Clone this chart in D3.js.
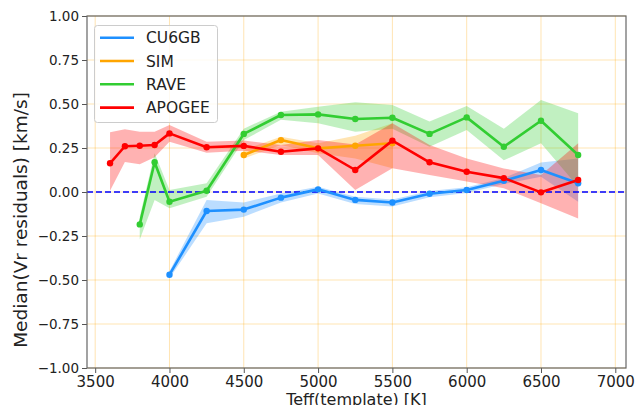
<!DOCTYPE html>
<html>
<head>
<meta charset="utf-8">
<script src="https://d3js.org/d3.v7.min.js"></script>
<style>
  body { margin: 0; background: #fff; }
  text { font-family: "DejaVu Sans", sans-serif; fill: #222; }
</style>
</head>
<body>
<div id="dv"></div>
<script>
// series data (Teff bins, median, lower and upper band)
var cu6gbTeff = [4000, 4250, 4500, 4750, 5000, 5250, 5500, 5750, 6000, 6250, 6500, 6750];
var cu6gbMed = [-0.47, -0.108, -0.10, -0.032, 0.015, -0.045, -0.06, -0.01, 0.011, 0.064, 0.125, 0.05];
var cu6gbLo = [-0.49, -0.178, -0.14, -0.06, -0.008, -0.068, -0.083, -0.03, -0.005, 0.045, 0.087, -0.055];
var cu6gbHi = [-0.45, -0.045, -0.06, -0.008, 0.03, -0.027, -0.042, 0.005, 0.027, 0.08, 0.167, 0.19];

var simTeff = [4500, 4750, 5000, 5250, 5500];
var simMed = [0.21, 0.295, 0.248, 0.263, 0.277];
var simLo = [0.19, 0.267, 0.22, 0.19, 0.135];
var simHi = [0.239, 0.314, 0.277, 0.32, 0.39];

var raveTeff = [3800, 3900, 4000, 4250, 4500, 4750, 5000, 5250, 5500, 5750, 6000, 6250, 6500, 6750];
var raveMed = [-0.184, 0.169, -0.055, 0.007, 0.33, 0.4375, 0.441, 0.415, 0.422, 0.33, 0.424, 0.257, 0.405, 0.21];
var raveLo = [-0.27, -0.045, -0.093, -0.027, 0.295, 0.41, 0.39, 0.343, 0.36, 0.257, 0.352, 0.18, 0.277, 0.03];
var raveHi = [-0.14, 0.22, 0.011, 0.05, 0.36, 0.456, 0.485, 0.51, 0.494, 0.4, 0.489, 0.36, 0.523, 0.447];

var apogeeTeff = [3600, 3700, 3800, 3900, 4000, 4250, 4500, 4750, 5000, 5250, 5500, 5750, 6000, 6250, 6500, 6750];
var apogeeMed = [0.163, 0.26, 0.263, 0.267, 0.333, 0.254, 0.262, 0.229, 0.248, 0.125, 0.292, 0.169, 0.115, 0.079, -0.002, 0.068];
var apogeeLo = [0.007, 0.17, 0.157, 0.197, 0.286, 0.223, 0.235, 0.21, 0.21, 0.011, 0.135, 0.097, 0.059, 0.021, -0.064, -0.15];
var apogeeHi = [0.34, 0.356, 0.343, 0.343, 0.38, 0.286, 0.292, 0.267, 0.295, 0.27, 0.39, 0.267, 0.19, 0.134, 0.097, 0.277];

var xTicks = [3500, 4000, 4500, 5000, 5500, 6000, 6500, 7000];
var yTicks = [-1, -0.75, -0.5, -0.25, 0, 0.25, 0.5, 0.75, 1];

var series = [
  { name: "CU6GB", color: "#1e90ff", t: cu6gbTeff, m: cu6gbMed, lo: cu6gbLo, hi: cu6gbHi },
  { name: "SIM", color: "#ffa500", t: simTeff, m: simMed, lo: simLo, hi: simHi },
  { name: "RAVE", color: "#32cd32", t: raveTeff, m: raveMed, lo: raveLo, hi: raveHi },
  { name: "APOGEE", color: "#ff0000", t: apogeeTeff, m: apogeeMed, lo: apogeeLo, hi: apogeeHi }
];

var W = 644, H = 405;
var pLeft = 87, pRight = 626, pTop = 16, pBottom = 368;

var svg = d3.select("div#dv").append("svg")
  .attr("width", W)
  .attr("height", H);

var x = d3.scaleLinear().domain([3445, 7072]).range([pLeft, pRight]);
var y = d3.scaleLinear().domain([-1, 1]).range([pBottom, pTop]);

svg.append("rect")
  .attr("x", pLeft).attr("y", pTop)
  .attr("width", pRight - pLeft).attr("height", pBottom - pTop)
  .attr("fill", "#fff");

// grid
svg.append("g").selectAll("line").data(xTicks).enter().append("line")
  .attr("x1", function(d) { return x(d); }).attr("x2", function(d) { return x(d); })
  .attr("y1", pTop).attr("y2", pBottom)
  .attr("stroke", "#ffa500").attr("stroke-opacity", 0.3).attr("stroke-width", 1);
svg.append("g").selectAll("line").data(yTicks).enter().append("line")
  .attr("y1", function(d) { return y(d); }).attr("y2", function(d) { return y(d); })
  .attr("x1", pLeft).attr("x2", pRight)
  .attr("stroke", "#ffa500").attr("stroke-opacity", 0.3).attr("stroke-width", 1);

// bands
var area = d3.area()
  .x(function(d) { return x(d[0]); })
  .y0(function(d) { return y(d[1]); })
  .y1(function(d) { return y(d[2]); });

series.forEach(function(s) {
  var pts = s.t.map(function(t, i) { return [t, s.lo[i], s.hi[i]]; });
  svg.append("path")
    .attr("d", area(pts))
    .attr("fill", s.color)
    .attr("fill-opacity", 0.3);
});

// zero line
svg.append("line")
  .attr("x1", pLeft).attr("x2", pRight)
  .attr("y1", y(0)).attr("y2", y(0))
  .attr("stroke", "#0000ff").attr("stroke-width", 1.6)
  .attr("stroke-dasharray", "6,3");

// lines + markers
var line = d3.line()
  .x(function(d) { return x(d[0]); })
  .y(function(d) { return y(d[1]); });

series.forEach(function(s) {
  var pts = s.t.map(function(t, i) { return [t, s.m[i]]; });
  svg.append("path")
    .attr("d", line(pts))
    .attr("fill", "none")
    .attr("stroke", s.color)
    .attr("stroke-width", 2.6)
    .attr("stroke-linejoin", "round");
  svg.append("g").selectAll("circle").data(pts).enter().append("circle")
    .attr("cx", function(d) { return x(d[0]); })
    .attr("cy", function(d) { return y(d[1]); })
    .attr("r", 3.2)
    .attr("fill", s.color);
});

// axes
var xAxis = d3.axisBottom(x).tickValues(xTicks).tickSize(5).tickPadding(3).tickFormat(d3.format("d"));
var yAxis = d3.axisLeft(y).tickValues(yTicks).tickSize(5).tickPadding(3)
  .tickFormat(function(d) { return d3.format(".2f")(d).replace("-", "\u2212"); });

var gx = svg.append("g").attr("transform", "translate(0," + pBottom + ")").call(xAxis);
var gy = svg.append("g").attr("transform", "translate(" + pLeft + ",0)").call(yAxis);
gx.select(".domain").remove();
gy.select(".domain").remove();
gx.selectAll("line").attr("stroke", "#555");
gy.selectAll("line").attr("stroke", "#555");
gx.selectAll("text").style("font-size", "15px").attr("fill", "#222").style("font-family", "DejaVu Sans");
gy.selectAll("text").style("font-size", "13.5px").attr("fill", "#222").style("font-family", "DejaVu Sans");

// frame
svg.append("rect")
  .attr("x", pLeft).attr("y", pTop)
  .attr("width", pRight - pLeft).attr("height", pBottom - pTop)
  .attr("fill", "none").attr("stroke", "#666").attr("stroke-width", 1.2);

// axis labels
svg.append("text")
  .attr("x", (pLeft + pRight) / 2)
  .attr("y", 404.5)
  .style("text-anchor", "middle")
  .style("font-size", "16px")
  .text("Teff(template) [K]");

svg.append("text")
  .attr("transform", "translate(26.5,220) rotate(-90)")
  .style("text-anchor", "middle")
  .style("font-size", "18.5px")
  .text("Median(Vr residuals) [km/s]");

// legend
var lg = svg.append("g");
lg.append("rect")
  .attr("x", 94.5).attr("y", 25.5)
  .attr("width", 123).attr("height", 97)
  .attr("rx", 3)
  .attr("fill", "#fff").attr("fill-opacity", 0.8)
  .attr("stroke", "#ccc");
var items = lg.selectAll("g.item").data(series).enter().append("g")
  .attr("class", "item")
  .attr("transform", function(d, i) { return "translate(0," + (37.7 + i * 23.3) + ")"; });
items.append("line")
  .attr("x1", 100).attr("x2", 134)
  .attr("stroke", function(d) { return d.color; })
  .attr("stroke-width", 2.6);
items.append("text")
  .attr("x", 146)
  .attr("dy", "0.36em")
  .style("font-size", "15.5px")
  .text(function(d) { return d.name; });
</script>
</body>
</html>
